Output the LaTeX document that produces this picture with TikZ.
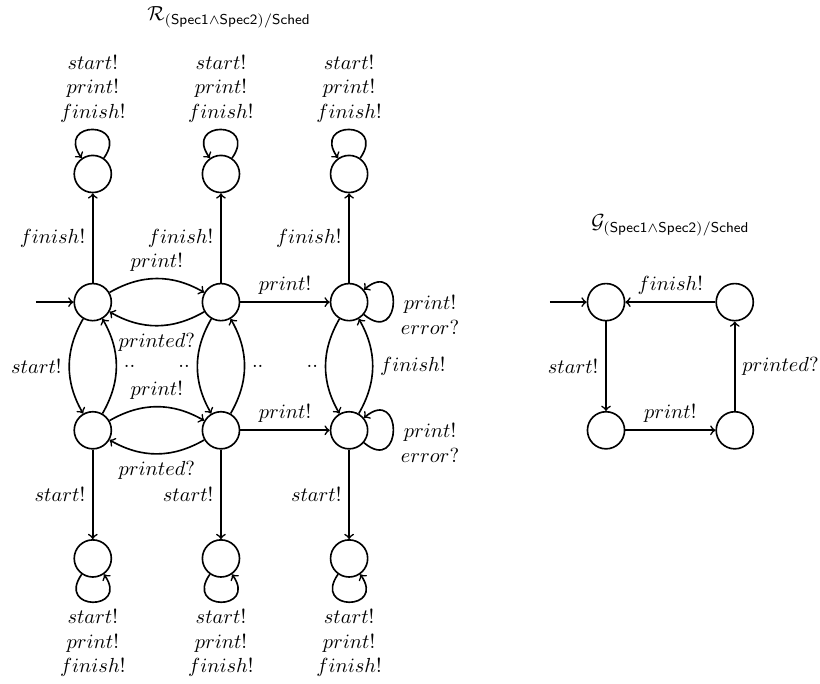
\documentclass[tikz,border=0pt]{standalone}

\tikzset{
	zustand/.style={circle, draw, thick, minimum size=0.64cm, inner sep=0pt},
	kante/.style={->, thick},
}

\begin{document}
\begin{tikzpicture}
	\useasboundingbox (0,0) rectangle (14.14,11.78);
	% Titel
	\node (titelR) at (3.95,11.48) {$\mathcal{R}_{(\mathsf{Spec1}\wedge\mathsf{Spec2})/\mathsf{Sched}}$};
	\node (titelG) at (11.56,7.9) {$\mathcal{G}_{(\mathsf{Spec1}\wedge\mathsf{Spec2})/\mathsf{Sched}}$};
	% Zustaende
	\foreach \i/\x in {1/1.6, 2/3.81, 3/6.02} {
		\node [zustand] (t\i) at (\x,8.78) {};
		\node [zustand] (a\i) at (\x,6.57) {};
		\node [zustand] (b\i) at (\x,4.36) {};
		\node [zustand] (d\i) at (\x,2.15) {};
	}
	\node [zustand] (g1) at (10.45,6.57) {};
	\node [zustand] (g2) at (12.67,6.57) {};
	\node [zustand] (g3) at (10.45,4.36) {};
	\node [zustand] (g4) at (12.67,4.36) {};
	% Startpfeile
	\coordinate (startR) at (0.62,6.57);
	\coordinate (startG) at (9.48,6.57);
	\draw [kante] (startR) -- (a1);
	\draw [kante] (startG) -- (g1);
	% Schleifen und senkrechte Kanten
	\foreach \i in {1,2,3} {
		\draw [kante] (t\i) to [out=55, in=125, distance=0.8cm] node [above, align=center] {$start!$\\$print!$\\$finish!$} (t\i);
		\draw [kante] (d\i) to [out=235, in=305, distance=0.78cm] node [below, align=center] {$start!$\\$print!$\\$finish!$} (d\i);
		\draw [kante] (a\i) -- node [left] {$finish!$} (t\i);
		\draw [kante] (b\i) -- node [left] {$start!$} (d\i);
	}
	\draw [kante] (a3) to [out=-40, in=40, distance=0.88cm] node [right, align=center, yshift=-0.22cm] {$print!$\\$error?$} (a3);
	\draw [kante] (b3) to [out=-40, in=40, distance=0.88cm] node [right, align=center, yshift=-0.22cm] {$print!$\\$error?$} (b3);
	% Boegen
	\draw [kante] (a1) to [bend left=30] node [above] {$print!$} (a2);
	\draw [kante] (a2) to [bend left=30] node [below] {$printed?$} (a1);
	\draw [kante] (b1) to [bend left=30] node [above] {$print!$} (b2);
	\draw [kante] (b2) to [bend left=30] node [below] {$printed?$} (b1);
	\draw [kante] (a1) to [bend right=30] node [left] {$start!$} (b1);
	\draw [kante] (b1) to [bend right=30] node [right] {$..$} (a1);
	\draw [kante] (a2) to [bend right=30] node [left] {$..$} (b2);
	\draw [kante] (b2) to [bend right=30] node [right] {$..$} (a2);
	\draw [kante] (a3) to [bend right=30] node [left] {$..$} (b3);
	\draw [kante] (b3) to [bend right=30] node [right] {$finish!$} (a3);
	% Gerade Kanten
	\draw [kante] (a2) -- node [above] {$print!$} (a3);
	\draw [kante] (b2) -- node [above] {$print!$} (b3);
	\draw [kante] (g1) -- node [left] {$start!$} (g3);
	\draw [kante] (g3) -- node [above] {$print!$} (g4);
	\draw [kante] (g4) -- node [right] {$printed?$} (g2);
	\draw [kante] (g2) -- node [above] {$finish!$} (g1);
\end{tikzpicture}
\end{document}
